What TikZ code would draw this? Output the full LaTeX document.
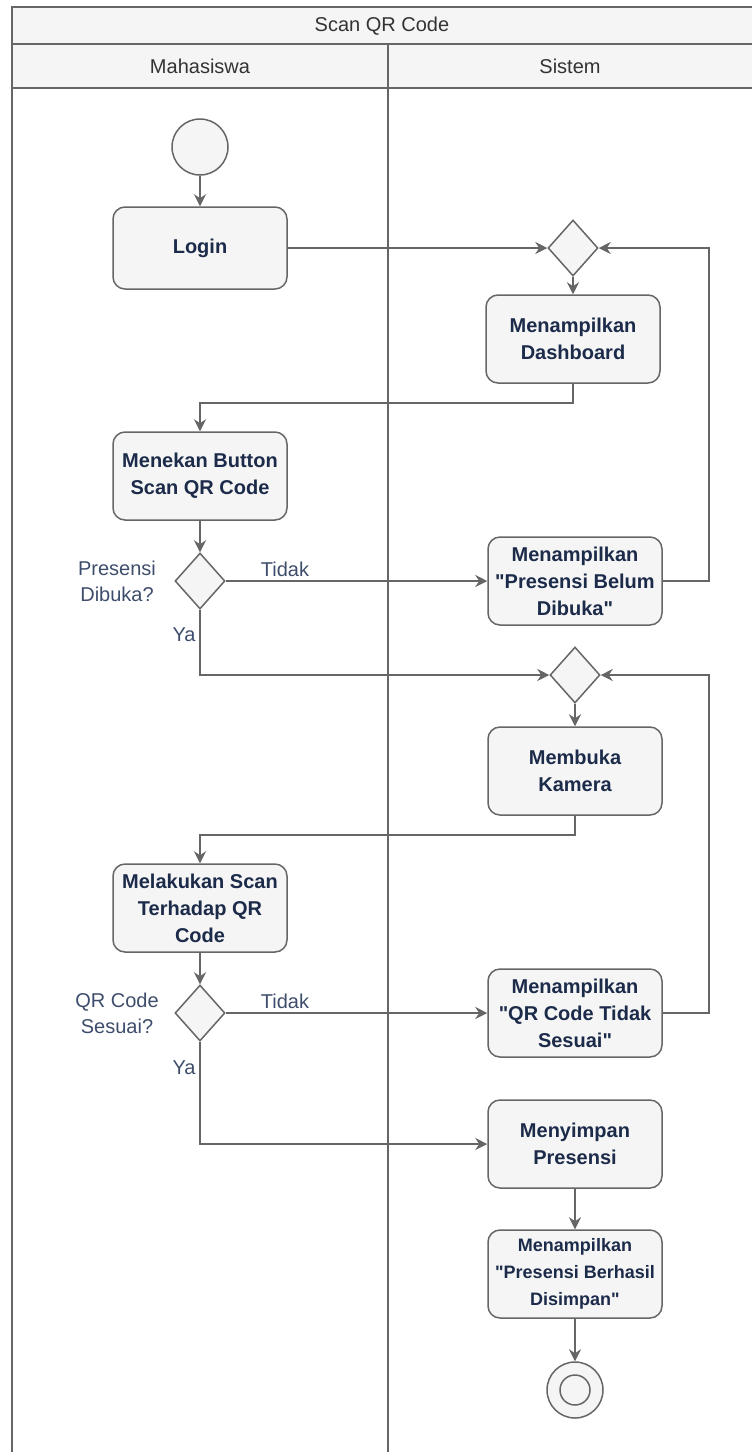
\documentclass[tikz,border=0pt]{standalone}
\usepackage{fontspec}
\setmainfont{Liberation Sans}[Ligatures=TeXOff]
\usetikzlibrary{shapes.geometric,arrows.meta}
\definecolor{lg}{HTML}{666666}
\definecolor{fg}{HTML}{F5F5F5}
\definecolor{boxtext}{HTML}{1C2B4A}
\definecolor{labeltext}{HTML}{3E4D6B}
\definecolor{titletext}{HTML}{333333}
\newcommand{\dq}{\symbol{34}}
\begin{document}
\begin{tikzpicture}[x=1pt,y=-1pt,
  flow/.style={draw=lg, line width=1.5pt, -{Stealth[length=12pt,width=12pt,inset=4pt]}},
  plain/.style={draw=lg, line width=1.5pt},
  act/.style={draw=lg, fill=fg, line width=1.5pt, rounded corners=12pt, minimum width=174pt, minimum height=88pt, align=center, text=boxtext, font=\fontsize{20}{27}\selectfont\bfseries, inner sep=2pt},
  dec/.style={diamond, draw=lg, fill=fg, line width=1.5pt, minimum width=50pt, minimum height=56pt, inner sep=0pt},
  lbl/.style={text=labeltext, font=\fontsize{20}{26}\selectfont, align=center, inner sep=0pt},
  ttl/.style={text=titletext, font=\fontsize{20}{24}\selectfont, inner sep=0pt},
  startnode/.style={circle, draw=lg, fill=fg, line width=1.5pt, minimum size=56pt, inner sep=0pt},
]
\useasboundingbox (0,0) rectangle (752,1452);
% frame
\fill[fg] (12,7) rectangle (752,88);
\draw[plain] (752,7) -- (12,7) -- (12,1452);
\draw[plain] (12,44) -- (752,44);
\draw[plain] (12,88) -- (752,88);
\draw[plain] (388,44) -- (388,1452);
\node[ttl] (title) at (382,26) {Scan QR Code};
\node[ttl] (laneA) at (200,66) {Mahasiswa};
\node[ttl] (laneB) at (570,66) {Sistem};
% nodes
\node[startnode] (start) at (200,147) {};
\node[act, minimum height=82pt] (login) at (200,248) {Login};
\node[dec] (d1) at (573,248) {};
\node[act] (dash) at (573,339) {Menampilkan\\Dashboard};
\node[act] (menekan) at (200,476) {Menekan Button\\Scan QR Code};
\node[dec] (d2) at (200,581) {};
\node[lbl] (q1) at (117,581) {Presensi\\Dibuka?};
\node[act] (belum) at (575,581) {Menampilkan\\\dq Presensi Belum\\Dibuka\dq};
\node[lbl] (t1) at (285,569) {Tidak};
\node[lbl] (y1) at (184,635) {Ya};
\node[dec] (d3) at (575,675) {};
\node[act] (kamera) at (575,771) {Membuka\\Kamera};
\node[act] (scan) at (200,908) {Melakukan Scan\\Terhadap QR\\Code};
\node[dec] (d4) at (200,1013) {};
\node[lbl] (q2) at (117,1013) {QR Code\\Sesuai?};
\node[act] (tidak) at (575,1013) {Menampilkan\\\dq QR Code Tidak\\Sesuai\dq};
\node[lbl] (t2) at (285,1001) {Tidak};
\node[lbl] (y2) at (184,1068) {Ya};
\node[act] (simpan) at (575,1144) {Menyimpan\\Presensi};
\node[act, font=\fontsize{18}{27}\selectfont\bfseries] (berhasil) at (575,1274) {Menampilkan\\\dq Presensi Berhasil\\Disimpan\dq};
\node[startnode] (finish) at (575,1390) {};
\node[circle, draw=lg, line width=1.5pt, minimum size=30pt, inner sep=0pt] (finishin) at (575,1390) {};
% connectors
\draw[flow] (start) -- (login);
\draw[flow] (login.east) -- (d1.west);
\draw[flow] (d1) -- (dash);
\draw[flow] (dash.south) -- ++(0,19) -| (menekan.north);
\draw[flow] (menekan) -- (d2);
\draw[flow] (d2.east) -- (belum.west);
\draw[flow] (belum.east) -- ++(46,0) |- (d1.east);
\draw[flow] (d2.south) |- (d3.west);
\draw[flow] (d3) -- (kamera);
\draw[flow] (kamera.south) -- ++(0,19) -| (scan.north);
\draw[flow] (scan) -- (d4);
\draw[flow] (d4.east) -- (tidak.west);
\draw[flow] (tidak.east) -- ++(46,0) |- (d3.east);
\draw[flow] (d4.south) |- (simpan.west);
\draw[flow] (simpan) -- (berhasil);
\draw[flow] (berhasil) -- (finish);
\end{tikzpicture}
\end{document}
